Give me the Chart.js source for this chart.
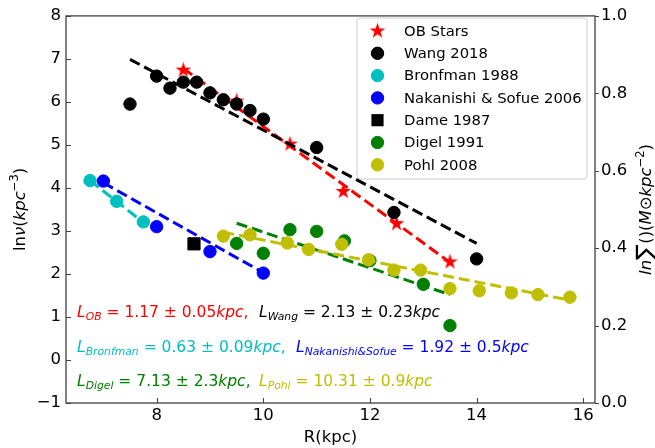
<!DOCTYPE html>
<html>
<head>
<meta charset="utf-8">
<script src="https://cdn.jsdelivr.net/npm/chart.js@4.4.1/dist/chart.umd.min.js"></script>
<style>
  html, body { margin: 0; padding: 0; background: #fff; }
  #wrap { width: 655px; height: 448px; }
</style>
</head>
<body>
<div id="wrap"><canvas id="chart" width="655" height="448"></canvas></div>
<script>
// radial profiles: R (kpc) vs ln(nu) (kpc^-3)
const obR = [8.5, 9.5, 10.5, 11.5, 12.5, 13.5];
const obLn = [6.74, 6.02, 5.02, 3.92, 3.17, 2.28];

const wangR = [7.5, 8.0, 8.25, 8.5, 8.75, 9.0, 9.25, 9.5, 9.75, 10.0, 11.0, 12.45, 14.0];
const wangLn = [5.95, 6.6, 6.32, 6.46, 6.46, 6.21, 6.05, 5.95, 5.8, 5.6, 4.94, 3.43, 2.35];

const bronfmanR = [6.75, 7.25, 7.75];
const bronfmanLn = [4.17, 3.69, 3.21];

const nakanishiR = [7.0, 8.0, 9.0, 10.0];
const nakanishiLn = [4.16, 3.1, 2.52, 2.02];

const dameR = [8.7];
const dameLn = [2.7];

const digelR = [9.5, 10.0, 10.5, 11.0, 11.52, 12.0, 13.0, 13.5];
const digelLn = [2.71, 2.48, 3.03, 2.99, 2.77, 2.31, 1.76, 0.8];

const pohlR = [9.25, 9.75, 10.45, 10.85, 11.47, 11.97, 12.45, 12.95, 13.5, 14.05, 14.65, 15.15, 15.75];
const pohlLn = [2.88, 2.91, 2.72, 2.57, 2.69, 2.33, 2.09, 2.09, 1.66, 1.61, 1.56, 1.52, 1.46];

// exponential fits (straight in ln space), end points
const obFitR = [8.5, 13.5];
const obFitLn = [6.78, 2.27];
const wangFitR = [7.5, 14.0];
const wangFitLn = [6.99, 2.71];
const bronfmanFitR = [6.75, 7.75];
const bronfmanFitLn = [4.17, 3.2];
const nakanishiFitR = [7.0, 10.0];
const nakanishiFitLn = [4.12, 2.03];
const digelFitR = [9.5, 13.5];
const digelFitLn = [3.18, 1.52];
const pohlFitR = [9.25, 15.75];
const pohlFitLn = [2.97, 1.39];

// scale lengths from the fits
const scaleNames = ['OB', 'Wang', 'Bronfman', 'Nakanishi&Sofue', 'Digel', 'Pohl'];
const scaleValues = ['1.17 ± 0.05', '2.13 ± 0.23', '0.63 ± 0.09', '1.92 ± 0.5', '7.13 ± 2.3', '10.31 ± 0.9'];

const legendLabels = ['OB Stars', 'Wang 2018', 'Bronfman 1988', 'Nakanishi & Sofue 2006', 'Dame 1987', 'Digel 1991', 'Pohl 2008'];

const xTicks = [8, 10, 12, 14, 16];
const yTicks = [-1, 0, 1, 2, 3, 4, 5, 6, 7, 8];
const y2Ticks = [0, 0.2, 0.4, 0.6, 0.8, 1.0];

const RED = '#ff0000', BLACK = '#000000', CYAN = '#00bfbf', BLUE = '#0000ff', GREEN = '#008000', OLIVE = '#bfbf00';
const FONT = '"DejaVu Sans", "Liberation Sans", sans-serif';

// filled five point star marker
function makeStar(color, r) {
  const s = Math.ceil(r * 2 + 4);
  const c = document.createElement('canvas');
  c.width = c.height = s;
  const g = c.getContext('2d');
  g.translate(s / 2, s / 2);
  g.beginPath();
  for (let k = 0; k < 10; k++) {
    const rad = k % 2 ? r * 0.382 : r;
    const a = -Math.PI / 2 + k * Math.PI / 5;
    g.lineTo(rad * Math.cos(a), rad * Math.sin(a));
  }
  g.closePath();
  g.fillStyle = color;
  g.fill();
  return c;
}
const starMarker = makeStar(RED, 8.2);

const pts = (xs, ys) => xs.map((x, i) => ({ x, y: ys[i] }));

function scatterSet(label, xs, ys, color, style, radius) {
  return {
    type: 'scatter', label, data: pts(xs, ys),
    pointStyle: style, pointRadius: radius,
    backgroundColor: color, borderColor: color, borderWidth: 1,
    showLine: false
  };
}
function fitSet(xs, ys, color) {
  return {
    type: 'line', label: '', data: pts(xs, ys),
    borderColor: color, borderWidth: 3, borderDash: [11, 5],
    pointRadius: 0, showLine: true, fill: false, tension: 0
  };
}

const datasets = [
  scatterSet(legendLabels[0], obR, obLn, RED, starMarker, 8),
  fitSet(obFitR, obFitLn, RED),
  scatterSet(legendLabels[1], wangR, wangLn, BLACK, 'circle', 6.2),
  fitSet(wangFitR, wangFitLn, BLACK),
  scatterSet(legendLabels[2], bronfmanR, bronfmanLn, CYAN, 'circle', 6.2),
  fitSet(bronfmanFitR, bronfmanFitLn, CYAN),
  scatterSet(legendLabels[3], nakanishiR, nakanishiLn, BLUE, 'circle', 6.2),
  fitSet(nakanishiFitR, nakanishiFitLn, BLUE),
  scatterSet(legendLabels[4], dameR, dameLn, BLACK, 'rect', 8.6),
  scatterSet(legendLabels[5], digelR, digelLn, GREEN, 'circle', 6.2),
  fitSet(digelFitR, digelFitLn, GREEN),
  scatterSet(legendLabels[6], pohlR, pohlLn, OLIVE, 'circle', 6.2),
  fitSet(pohlFitR, pohlFitLn, OLIVE)
];
// later datasets on top
datasets.forEach((d, i) => { d.order = datasets.length - i; });

// mixed upright / italic / sub / superscript text
function runFont(r, size) {
  let s = size;
  if (r.sub || r.sup) s = size * 0.7;
  if (r.big) s = size * 1.45;
  return (r.it ? 'italic ' : '') + s.toFixed(1) + 'px ' + FONT;
}
function runShift(r, size) {
  if (r.sub) return size * 0.17;
  if (r.sup) return -size * 0.4;
  if (r.big) return size * 0.13;
  return 0;
}
function runsWidth(ctx, runs, size) {
  let w = 0;
  for (const r of runs) { ctx.font = runFont(r, size); w += ctx.measureText(r.t).width; }
  return w;
}
function drawRuns(ctx, runs, x, y, size, color) {
  ctx.textBaseline = 'alphabetic';
  ctx.textAlign = 'left';
  ctx.fillStyle = color;
  for (const r of runs) {
    ctx.font = runFont(r, size);
    ctx.fillText(r.t, x, y + runShift(r, size));
    x += ctx.measureText(r.t).width;
  }
  return x;
}
function scaleRuns(i, comma) {
  const runs = [
    { t: 'L', it: true }, { t: scaleNames[i], it: true, sub: true },
    { t: ' = ' + scaleValues[i] }, { t: 'kpc', it: true }
  ];
  if (comma) runs.push({ t: ',' });
  return runs;
}

const annotations = [
  { i: 0, comma: true, color: RED, x: 77, y: 317 },
  { i: 1, comma: false, color: BLACK, x: 259, y: 317 },
  { i: 2, comma: true, color: CYAN, x: 77, y: 352 },
  { i: 3, comma: false, color: BLUE, x: 296, y: 352 },
  { i: 4, comma: true, color: GREEN, x: 77, y: 386 },
  { i: 5, comma: false, color: OLIVE, x: 259, y: 386 }
];

const yTitleRuns = [
  { t: 'ln' }, { t: 'ν', it: true }, { t: '(' }, { t: 'kpc', it: true },
  { t: '−3', sup: true }, { t: ')' }
];
const y2TitleRuns = [
  { t: 'ln', it: true }, { t: '∑', big: true }, { t: '()(' }, { t: 'M', it: true },
  { t: '⊙' }, { t: 'kpc', it: true }, { t: '−2', sup: true }, { t: ')' }
];

function legendMarker(ctx, ds, x, y) {
  ctx.fillStyle = ds.backgroundColor;
  ctx.strokeStyle = ds.borderColor;
  ctx.lineWidth = 1;
  if (ds.pointStyle === 'circle') {
    ctx.beginPath();
    ctx.arc(x, y, ds.pointRadius, 0, Math.PI * 2);
    ctx.fill(); ctx.stroke();
  } else if (ds.pointStyle === 'rect') {
    const h = ds.pointRadius * Math.SQRT1_2;
    ctx.fillRect(x - h, y - h, 2 * h, 2 * h);
  } else {
    const img = ds.pointStyle;
    ctx.drawImage(img, x - img.width / 2, y - img.height / 2);
  }
}

const decorations = {
  id: 'decorations',
  afterDatasetsDraw(chart) {
    const { ctx, chartArea: a, scales } = chart;
    ctx.save();
    ctx.strokeStyle = '#404040';
    ctx.lineWidth = 1.3;
    ctx.strokeRect(a.left, a.top, a.right - a.left, a.bottom - a.top);
    ctx.lineWidth = 1;
    ctx.beginPath();
    xTicks.forEach(v => {
      const px = Math.round(scales.x.getPixelForValue(v)) + 0.5;
      ctx.moveTo(px, a.bottom); ctx.lineTo(px, a.bottom - 5);
    });
    yTicks.forEach(v => {
      const py = Math.round(scales.y.getPixelForValue(v)) + 0.5;
      ctx.moveTo(a.left, py); ctx.lineTo(a.left + 5, py);
    });
    y2Ticks.forEach(v => {
      const py = Math.round(scales.y2.getPixelForValue(v)) + 0.5;
      ctx.moveTo(a.right, py); ctx.lineTo(a.right + 4, py);
    });
    ctx.stroke();
    ctx.restore();
  },
  afterDraw(chart) {
    const { ctx, chartArea: a } = chart;
    ctx.save();

    // scale length labels
    annotations.forEach(n => drawRuns(ctx, scaleRuns(n.i, n.comma), n.x, n.y, 15.5, n.color));

    // axis titles
    const midY = (a.top + a.bottom) / 2;
    ctx.font = '16.5px ' + FONT;
    ctx.fillStyle = '#000';
    ctx.textAlign = 'center';
    ctx.textBaseline = 'alphabetic';
    ctx.fillText('R(kpc)', (a.left + a.right) / 2, 442);

    ctx.save();
    ctx.translate(25, midY);
    ctx.rotate(-Math.PI / 2);
    drawRuns(ctx, yTitleRuns, -runsWidth(ctx, yTitleRuns, 16.5) / 2, 0, 16.5, '#000');
    ctx.restore();

    ctx.save();
    ctx.translate(651, midY);
    ctx.rotate(-Math.PI / 2);
    drawRuns(ctx, y2TitleRuns, -runsWidth(ctx, y2TitleRuns, 16.5) / 2, 0, 16.5, '#000');
    ctx.restore();

    // legend box
    const bx = 357, by = 18, bw = 230, bh = 161, rr = 3;
    ctx.beginPath();
    ctx.moveTo(bx + rr, by);
    ctx.arcTo(bx + bw, by, bx + bw, by + bh, rr);
    ctx.arcTo(bx + bw, by + bh, bx, by + bh, rr);
    ctx.arcTo(bx, by + bh, bx, by, rr);
    ctx.arcTo(bx, by, bx + bw, by, rr);
    ctx.closePath();
    ctx.fillStyle = 'rgba(255,255,255,0.8)';
    ctx.fill();
    ctx.strokeStyle = '#cccccc';
    ctx.lineWidth = 1;
    ctx.stroke();

    const entries = chart.data.datasets.filter(d => d.type === 'scatter');
    entries.forEach((ds, k) => {
      const ry = 31 + k * 22.3;
      legendMarker(ctx, ds, 377.5, ry);
      ctx.font = '14.8px ' + FONT;
      ctx.fillStyle = '#000';
      ctx.textAlign = 'left';
      ctx.textBaseline = 'middle';
      ctx.fillText(ds.label, 404, ry + 1);
    });
    ctx.restore();
  }
};

const tickFont = { family: FONT, size: 16.5 };
const minus = v => String(v).replace('-', '−');

new Chart(document.getElementById('chart'), {
  type: 'scatter',
  data: { datasets },
  options: {
    responsive: false,
    animation: false,
    devicePixelRatio: 1,
    events: [],
    layout: { padding: { top: 11, left: 0, right: 0, bottom: 0 } },
    plugins: { legend: { display: false }, tooltip: { enabled: false } },
    scales: {
      x: {
        type: 'linear', position: 'bottom', min: 6.3, max: 16.22,
        afterBuildTicks: s => { s.ticks = xTicks.map(v => ({ value: v })); },
        afterFit: s => { s.height = 45; },
        grid: { display: false, drawTicks: false },
        border: { display: false },
        ticks: { font: tickFont, color: '#000', padding: 3, maxRotation: 0, autoSkip: false, callback: minus }
      },
      y: {
        type: 'linear', position: 'left', min: -1, max: 8,
        afterBuildTicks: s => { s.ticks = yTicks.map(v => ({ value: v })); },
        afterFit: s => { s.width = 66; },
        grid: { display: false, drawTicks: false },
        border: { display: false },
        ticks: { font: tickFont, color: '#000', padding: 5, autoSkip: false, callback: minus }
      },
      y2: {
        type: 'linear', position: 'right', min: 0, max: 1,
        afterBuildTicks: s => { s.ticks = y2Ticks.map(v => ({ value: v })); },
        afterFit: s => { s.width = 60; },
        grid: { display: false, drawTicks: false },
        border: { display: false },
        ticks: { font: tickFont, color: '#000', padding: 6, autoSkip: false, callback: v => v.toFixed(1) }
      }
    }
  },
  plugins: [decorations]
});
</script>
</body>
</html>
